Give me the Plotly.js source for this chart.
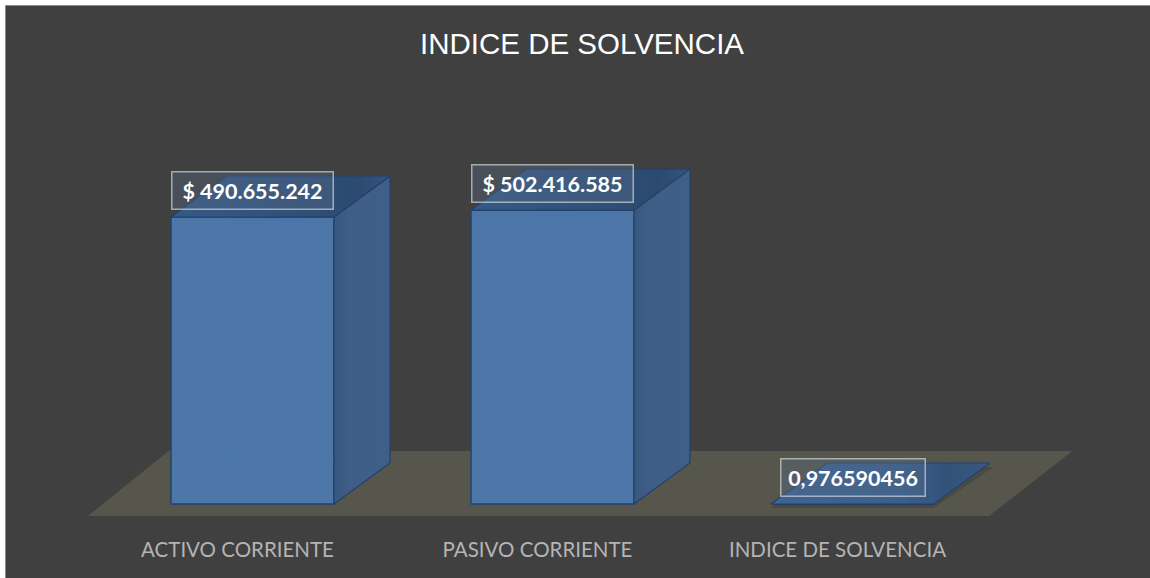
<!DOCTYPE html>
<html><head><meta charset="utf-8">
<script src="https://cdn.plot.ly/plotly-3.0.0.min.js"></script>
<style>html,body{margin:0;padding:0;background:#fff}#c{position:absolute;left:5px;top:5px;width:1145px;height:573px;border-left:1px solid #8a8a8a;border-top:1px solid #8a8a8a;box-sizing:border-box}</style>
</head><body><div id="c"></div>
<script>
const categories=["ACTIVO CORRIENTE","PASIVO CORRIENTE","INDICE DE SOLVENCIA"];
const positions=[0,1,2];
const values=[490655242,502416585,0.976590456];
const labels=["$ 490.655.242","$ 502.416.585","0,976590456"];
const chartTitle="INDICE DE SOLVENCIA";

const W=1144,H=572,originX=246.5,spacing=300,unit=1709600;
const zeroPx=498,floorBottomPx=510;
const barW=163/spacing,dx=56/spacing,dy=41*unit;
const xr=[-originX/spacing,(W-originX)/spacing];
const yr=[-(floorBottomPx-zeroPx)*unit,zeroPx*unit];

const front='rgba(78,122,176,0.93)',edge='#23416a',inner='rgba(70,120,180,0.55)';
const traces=[];
function poly(xs,ys,fill,line,lw,grad){
  const t={type:'scatter',mode:'lines',x:xs,y:ys,fill:'toself',fillcolor:fill,
    line:{color:line,width:lw},hoverinfo:'skip',showlegend:false};
  if(grad) t.fillgradient={type:'horizontal',colorscale:grad};
  traces.push(t);
}
function path(xs,ys,line,lw){
  traces.push({type:'scatter',mode:'lines',x:xs,y:ys,line:{color:line,width:lw},hoverinfo:'skip',showlegend:false});
}
traces.push({type:'bar',x:positions,y:values,width:barW,marker:{color:front,line:{color:edge,width:1.5}},hoverinfo:'x+y',showlegend:false});
positions.forEach((p,i)=>{
  const v=values[i],a=p-barW/2,b=p+barW/2;
  path([a,a+dx,b+dx],[0,dy,dy],inner,1);
  if(v>1){
    path([a+dx,a+dx],[dy,v+dy],inner,1);
    poly([b,b+dx,b+dx,b,b],[0,dy,v+dy,v,0],'#3f5f88',edge,1.2,
      [[0,'#38577f'],[0.25,'#3e5e87'],[1,'#3f5f88']]);
    poly([a,b,b+dx,a+dx,a],[v,v,v+dy,v+dy,v],'#2f5078',edge,1.2,
      [[0,'#355a88'],[0.6,'#2f5078'],[0.85,'#2c4a70'],[1,'#35547c']]);
  } else {
    const s=4*unit;
    poly([a,b,b+dx+0.012,a+dx,a],[v-s,v-s,v+dy-s,v+dy-s,v-s],'rgba(30,30,30,0.22)','rgba(0,0,0,0)',0);
    poly([a,b,b+dx,a+dx,a],[v,v,v+dy,v+dy,v],'#38598a',edge,1.2,
      [[0,'#3d6494'],[0.6,'#3a5f8e'],[0.8,'#33527a'],[1,'#38587f']]);
  }
});
const layout={
  width:W,height:H,margin:{l:0,r:0,t:0,b:H-floorBottomPx},
  paper_bgcolor:'#404040',plot_bgcolor:'#404040',
  title:{text:chartTitle,font:{family:'Liberation Sans',size:29.5,color:'#ffffff'},x:0.5035,xanchor:'center',y:0.9335,yanchor:'middle'},
  font:{family:'Lato'},
  xaxis:{range:xr,tickmode:'array',tickvals:positions,ticktext:categories,showgrid:false,zeroline:false,showline:false,ticks:'',
    ticklabelshift:-15,ticklabelstandoff:19,tickfont:{family:'Lato',size:20.5,color:'#b4b4b4'},fixedrange:true},
  yaxis:{range:yr,showgrid:false,zeroline:false,showline:false,showticklabels:false,ticks:'',fixedrange:true},
  shapes:[{type:'path',layer:'below',xref:'x',yref:'y',line:{width:0},fillcolor:'#56564c',
    path:`M ${-164.5/spacing} ${-12*unit} L ${736.5/spacing} ${-12*unit} L ${820/spacing} ${53*unit} L ${-84/spacing} ${53*unit} Z`}],
  annotations:positions.map((p,i)=>({x:p,y:values[i],xref:'x',yref:'y',text:'<b>'+labels[i]+'</b>',showarrow:false,
    yshift:27,width:i<2?160:143,height:36,align:'center',valign:'middle',
    font:{family:'Lato',size:21.5,color:'#ffffff'},bgcolor:'rgba(90,110,135,0.35)',bordercolor:'rgba(200,205,210,0.75)',borderwidth:1.5,borderpad:0}))
};
Plotly.newPlot('c',traces,layout,{displayModeBar:false,responsive:false});
</script></body></html>
